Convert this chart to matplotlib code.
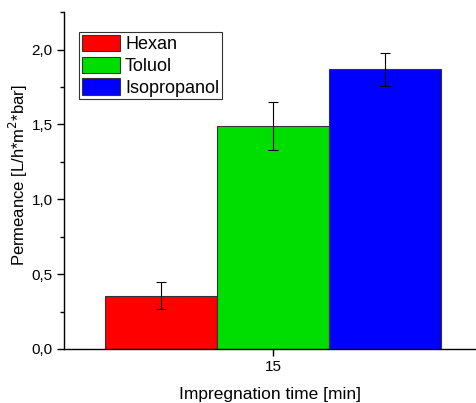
import numpy as np
import matplotlib
matplotlib.use("Agg")
import matplotlib.pyplot as plt
from matplotlib.ticker import MultipleLocator, FuncFormatter

plt.rcParams['font.family'] = ['Liberation Sans', 'DejaVu Sans']

# data
solvents = ['Hexan', 'Toluol', 'Isopropanol']
colors = ['#ff0000', '#00dd00', '#0000ff']
time_min = 15
permeance = [0.355, 1.487, 1.867]
errors = [0.090, 0.160, 0.113]

fig = plt.figure(figsize=(4.77, 4.03), dpi=100)
ax = fig.add_axes([0.134, 0.134, 0.866, 0.836])

width = 1.0
offsets = np.array([-1, 0, 1]) * width
for off, name, val, err, col in zip(offsets, solvents, permeance, errors, colors):
    ax.bar(time_min + off, val, width=width, color=col, edgecolor='#333333',
           linewidth=0.8, label=name)
    ax.errorbar(time_min + off, val, yerr=err, fmt='none', ecolor='black',
                elinewidth=0.8, capsize=3.5, capthick=0.8)

ax.set_xlim(time_min - 1.866, time_min + 1.82)
ax.set_ylim(0, 2.25)
ax.set_xticks([time_min])
ax.set_xticklabels([str(time_min)])
ax.yaxis.set_major_locator(MultipleLocator(0.5))
ax.yaxis.set_minor_locator(MultipleLocator(0.25))
ax.yaxis.set_major_formatter(FuncFormatter(lambda v, p: ('%.1f' % v).replace('.', ',')))

for s in ['top', 'right']:
    ax.spines[s].set_visible(False)
for s in ['left', 'bottom']:
    ax.spines[s].set_linewidth(1.0)

ax.tick_params(axis='both', which='major', direction='out', length=5, width=1,
               labelsize=11, colors='black', pad=3)
ax.tick_params(axis='y', which='minor', direction='out', length=3, width=1)

ax.set_xlabel('Impregnation time [min]', fontsize=12.5, labelpad=9)
ax.set_ylabel('Permeance [L/h*m$^2$*bar]', fontsize=12)
ax.yaxis.set_label_coords(-0.082, 0.515)

leg = ax.legend(loc='upper left', bbox_to_anchor=(79 / 477, 1 - 32 / 403),
                bbox_transform=fig.transFigure, borderaxespad=0, fontsize=13,
                fancybox=False, framealpha=1, edgecolor='#333333',
                handlelength=2.1, handleheight=1.0, labelspacing=0.2,
                handletextpad=0.3, borderpad=0.15)
leg.get_frame().set_linewidth(0.8)

fig.savefig('out.png', dpi=100)
